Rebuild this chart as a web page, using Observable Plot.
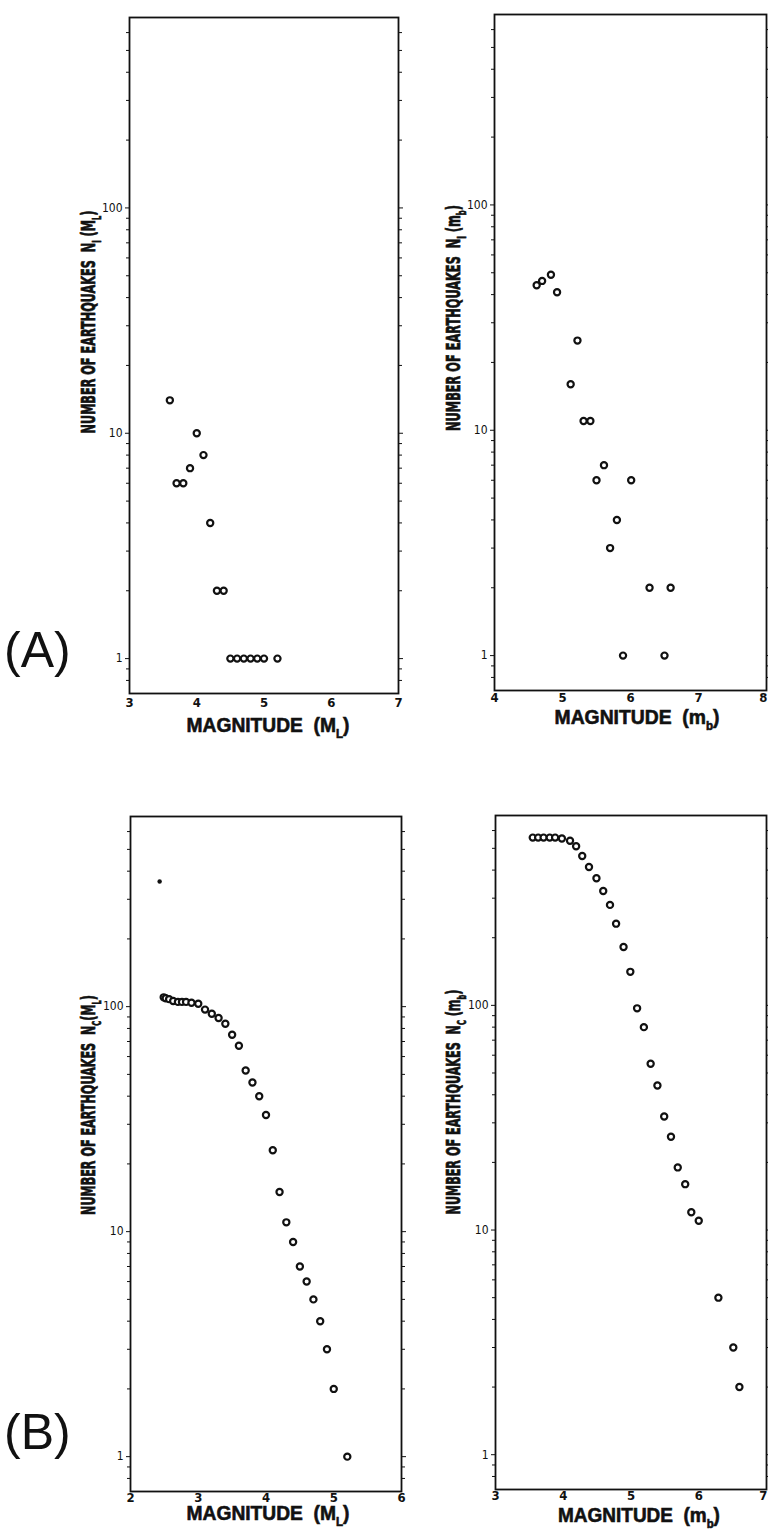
<!DOCTYPE html>
<html>
<head>
<meta charset="utf-8">
<script src="https://cdn.jsdelivr.net/npm/d3@7"></script>
<script src="https://cdn.jsdelivr.net/npm/@observablehq/plot@0.6"></script>
<style>
  html, body { margin: 0; padding: 0; background: #fff; }
  #root { position: relative; width: 768px; height: 1538px; overflow: hidden; background: #fff; }
  #root svg { position: absolute; }
</style>
</head>
<body>
<div id="root"></div>
<script>
// ---------------- DATA ----------------
// (A) left: incremental number of earthquakes vs local magnitude M_L
const mlIncMag = [3.6, 3.7, 3.8, 3.9, 4.0, 4.1, 4.2, 4.3, 4.4, 4.5, 4.6, 4.7, 4.8, 4.9, 5.0, 5.2];
const mlIncN   = [14, 6, 6, 7, 10, 8, 4, 2, 2, 1, 1, 1, 1, 1, 1, 1];

// (A) right: incremental number vs body-wave magnitude m_b
const mbIncMag = [4.62, 4.70, 4.83, 4.92, 5.12, 5.22, 5.31, 5.41, 5.50, 5.61, 5.70, 5.80, 5.89, 6.01, 6.28, 6.50, 6.59];
const mbIncN   = [44, 46, 49, 41, 16, 25, 11, 11, 6, 7, 3, 4, 1, 6, 2, 1, 2];

// (B) left: cumulative number vs M_L
const mlCumMag = [2.49, 2.52, 2.57, 2.63, 2.70, 2.76, 2.82, 2.90, 3.0, 3.1, 3.2, 3.3, 3.4, 3.5, 3.6, 3.7, 3.8, 3.9, 4.0, 4.1, 4.2, 4.3, 4.4, 4.5, 4.6, 4.7, 4.8, 4.9, 5.0, 5.2];
const mlCumN   = [110, 109, 108, 106, 105, 105, 105, 104, 103, 97, 93, 89, 84, 75, 67, 52, 46, 40, 33, 23, 15, 11, 9, 7, 6, 5, 4, 3, 2, 1];
const mlCumExtraMag = [2.43];
const mlCumExtraN   = [360];

// (B) right: cumulative number vs m_b
const mbCumMag = [3.55, 3.63, 3.71, 3.80, 3.88, 3.98, 4.10, 4.19, 4.28, 4.38, 4.49, 4.59, 4.69, 4.78, 4.89, 4.99, 5.09, 5.19, 5.29, 5.39, 5.49, 5.59, 5.69, 5.80, 5.89, 6.0, 6.29, 6.51, 6.60];
const mbCumN   = [558, 558, 558, 558, 558, 553, 540, 511, 462, 413, 368, 323, 280, 231, 182, 141, 97, 80, 55, 44, 32, 26, 19, 16, 12, 11, 5, 3, 2];

// Axis ticks
const yDomain = [0.7, 700];
const yMajorTicks = [1, 10, 100];
const yMinorTicks = [0.8, 0.9, 2, 3, 4, 5, 6, 7, 8, 9, 20, 30, 40, 50, 60, 70, 80, 90, 200, 300, 400, 500, 600];
const xTicksTL = [3, 4, 5, 6, 7];
const xTicksTR = [4, 5, 6, 7, 8];
const xTicksBL = [2, 3, 4, 5, 6];
const xTicksBR = [3, 4, 5, 6, 7];

// Texts
const yLabelMain = "NUMBER OF EARTHQUAKES";
const xLabelMain = "MAGNITUDE";

// ---------------- LAYOUT ----------------
const root = document.getElementById("root");
const INK = "#111";
const tickFont = "'Liberation Sans Narrow', 'DejaVu Sans Condensed', 'Liberation Sans', sans-serif";

const panels = [
  { x0: 129, x1: 398, y0: 17,  y1: 693,  xDomain: [3, 7], xTicks: xTicksTL, mag: mlIncMag, n: mlIncN, xPad: 4, edgeLast: false },
  { x0: 494, x1: 766, y0: 14,  y1: 690,  xDomain: [4, 8], xTicks: xTicksTR, mag: mbIncMag, n: mbIncN, xPad: 2, edgeLast: true },
  { x0: 130, x1: 401, y0: 816, y1: 1491, xDomain: [2, 6], xTicks: xTicksBL, mag: mlCumMag, n: mlCumN, xPad: 1, edgeLast: false,
    extraMag: mlCumExtraMag, extraN: mlCumExtraN },
  { x0: 495, x1: 766, y0: 815, y1: 1489, xDomain: [3, 7], xTicks: xTicksBR, mag: mbCumMag, n: mbCumN, xPad: 1, edgeLast: true }
];

for (const p of panels) {
  const mL = 40, mR = 2, mT = 4, mB = 18;
  const W = (p.x1 - p.x0) + mL + mR;
  const H = (p.y1 - p.y0) + mT + mB;
  const data = p.mag.map((m, i) => ({ m, n: p.n[i] }));
  const mainTicks = p.edgeLast ? p.xTicks.slice(0, -1) : p.xTicks;
  const marks = [
    Plot.axisY({ ticks: yMinorTicks, anchor: "left", tickSize: 3, tickFormat: () => "", label: null, stroke: INK, strokeWidth: 1 }),
    Plot.axisY({ ticks: yMinorTicks, anchor: "right", tickSize: 3, tickFormat: () => "", label: null, stroke: INK, strokeWidth: 1 }),
    Plot.axisY({ ticks: yMajorTicks, anchor: "left", tickSize: 4, tickPadding: 3, tickFormat: d => String(d), label: null,
                 fontSize: 12, fill: INK, stroke: INK, strokeWidth: 1 }),
    Plot.axisY({ ticks: yMajorTicks, anchor: "right", tickSize: 4, tickFormat: () => "", label: null, stroke: INK }),
    Plot.axisX({ ticks: mainTicks, tickSize: 0, tickPadding: p.xPad, tickFormat: d => String(d), label: null,
                 fontSize: 13, fontWeight: "bold", fill: INK })
  ];
  if (p.edgeLast) {
    marks.push(Plot.axisX({ ticks: p.xTicks.slice(-1), tickSize: 0, tickPadding: p.xPad, tickFormat: d => String(d), label: null,
                 fontSize: 13, fontWeight: "bold", fill: INK, textAnchor: "end", dx: 1 }));
  }
  marks.push(
    Plot.frame({ stroke: INK, strokeWidth: 1.8 }),
    Plot.dot(data, { x: "m", y: "n", r: 3.1, stroke: INK, strokeWidth: 2.2, fill: "white" })
  );
  if (p.extraMag) {
    const extra = p.extraMag.map((m, i) => ({ m, n: p.extraN[i] }));
    marks.push(Plot.dot(extra, { x: "m", y: "n", r: 2.2, fill: INK, stroke: "none" }));
  }
  const chart = Plot.plot({
    width: W, height: H,
    marginLeft: mL, marginRight: mR, marginTop: mT, marginBottom: mB,
    style: { background: "transparent", fontFamily: tickFont, color: INK, overflow: "visible" },
    x: { domain: p.xDomain, label: null },
    y: { type: "log", domain: yDomain, label: null },
    marks
  });
  chart.style.left = (p.x0 - mL) + "px";
  chart.style.top = (p.y0 - mT) + "px";
  root.appendChild(chart);
}

// ---------------- LABELS (overlay) ----------------
const ov = d3.select(root).append("svg")
  .attr("width", 768).attr("height", 1538)
  .style("left", "0px").style("top", "0px")
  .style("pointer-events", "none");

const labelFontNarrow = "'Liberation Sans Narrow', 'DejaVu Sans Condensed', 'Liberation Sans', sans-serif";
const labelFontWide = "'Liberation Sans', 'DejaVu Sans', sans-serif";

// parts: array of [text, isSub]
function addLabel(cx, cy, len, parts, fs, rotate, family, heavy) {
  const capH = fs * 0.72;
  const g = ov.append("g");
  const t = g.append("text")
    .attr("text-anchor", "middle")
    .attr("y", capH / 2)
    .attr("font-family", family)
    .attr("font-weight", "bold")
    .attr("font-size", fs)
    .attr("fill", INK)
    .attr("stroke", INK)
    .attr("stroke-width", heavy)
    .style("white-space", "pre");
  let shifted = false;
  for (const [txt, sub] of parts) {
    const ts = t.append("tspan").text(txt);
    if (sub && !shifted) { ts.attr("dy", fs * 0.28).attr("font-size", fs * 0.6); shifted = true; }
    else if (sub) { ts.attr("font-size", fs * 0.6); }
    else if (!sub && shifted) { ts.attr("dy", -fs * 0.28); shifted = false; }
  }
  const natural = t.node().getComputedTextLength();
  const sx = natural > 0 ? len / natural : 1;
  g.attr("transform", `translate(${cx},${cy}) rotate(${rotate}) scale(${sx},1)`);
}

// Y labels (rotated)
addLabel(88, 322, 223, [[yLabelMain + "  N", false], ["I", true], [" (M", false], ["L", true], [")", false]], 20, -90, labelFontNarrow, 0.7);
addLabel(453, 318, 226, [[yLabelMain + "  N", false], ["I", true], [" (m", false], ["b", true], [")", false]], 20, -90, labelFontNarrow, 0.7);
addLabel(88, 1105, 220, [[yLabelMain + "  N", false], ["C", true], ["(M", false], ["L", true], [")", false]], 20, -90, labelFontNarrow, 0.7);
addLabel(453, 1102, 225, [[yLabelMain + "  N", false], ["C", true], [" (m", false], ["b", true], [")", false]], 20, -90, labelFontNarrow, 0.7);

// X labels
addLabel(268, 725, 163, [[xLabelMain + "  (M", false], ["L", true], [")", false]], 20, 0, labelFontWide, 0.6);
addLabel(637, 717, 165, [[xLabelMain + "  (m", false], ["b", true], [")", false]], 20, 0, labelFontWide, 0.6);
addLabel(268, 1513, 163, [[xLabelMain + "  (M", false], ["L", true], [")", false]], 20, 0, labelFontWide, 0.6);
addLabel(639, 1515, 162, [[xLabelMain + "  (m", false], ["b", true], [")", false]], 20, 0, labelFontWide, 0.6);

// Panel letters
ov.append("text").attr("x", 4).attr("y", 667).attr("font-family", labelFontWide)
  .attr("font-size", 50).attr("fill", INK).text("(A)");
ov.append("text").attr("x", 4).attr("y", 1449).attr("font-family", labelFontWide)
  .attr("font-size", 50).attr("fill", INK).text("(B)");
</script>
</body>
</html>
